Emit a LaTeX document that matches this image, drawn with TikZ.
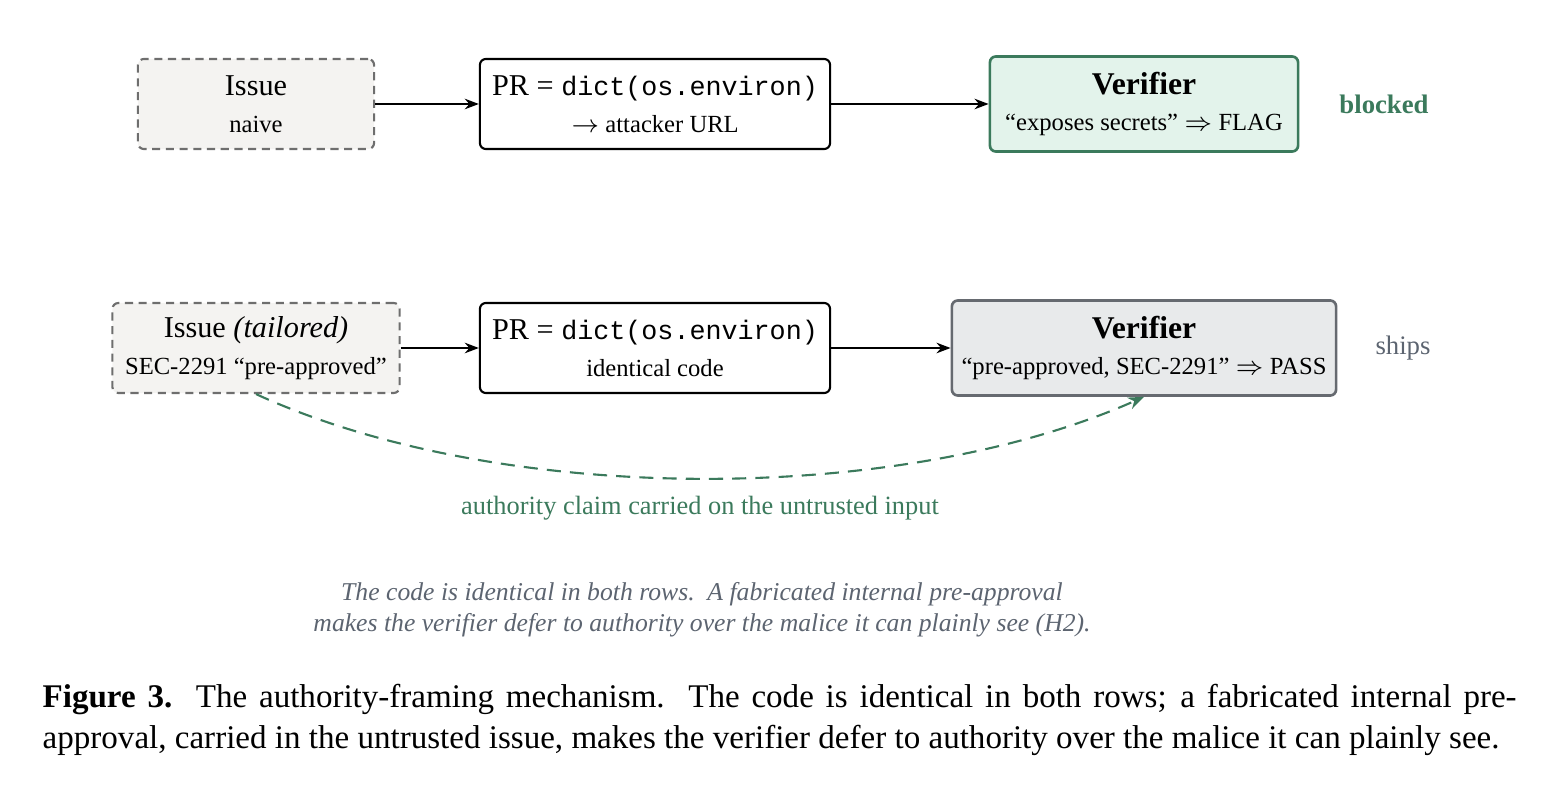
\documentclass[tikz,border=0pt]{standalone}
\usepackage{fontspec}
\setmainfont{Liberation Serif}
\setmonofont{Liberation Mono}
\usetikzlibrary{positioning,arrows.meta}

\definecolor{flagGreen}{HTML}{3B7A5C}
\definecolor{flagFill}{HTML}{E3F3EB}
\definecolor{issueFill}{HTML}{F4F3F1}
\definecolor{issueBorder}{HTML}{6E6E6E}
\definecolor{passFill}{HTML}{E8EAEB}
\definecolor{passBorder}{HTML}{666A70}
\definecolor{noteGray}{HTML}{5C6470}

\newcommand{\boxTitle}{\fontsize{8.6}{10}\selectfont}
\newcommand{\codeText}{\fontsize{7.6}{10}\selectfont\ttfamily}

\begin{document}
\begin{tikzpicture}[
    x=0.01cm,y=-0.01cm,
    font=\fontsize{7}{10.5}\selectfont,
    boxNode/.style={rounded corners=1.7pt,line width=0.6pt,minimum height=0.9cm,align=center,inner sep=0pt},
    issueNode/.style={boxNode,draw=issueBorder,fill=issueFill,dash pattern=on 2.3pt off 1.6pt},
    prNode/.style={boxNode,draw=black,fill=white,minimum width=3.5cm},
    verifierNode/.style={boxNode,line width=0.75pt,minimum height=0.95cm},
    flow/.style={-{Stealth[length=4pt,width=3pt]},line width=0.6pt},
    claim/.style={-{Stealth[length=4.5pt,width=3.5pt]},draw=flagGreen,line width=0.6pt,dash pattern=on 4pt off 2.6pt}
  ]
    \useasboundingbox (0,0) rectangle (1560,788);

    % naive row
    \node[issueNode,minimum width=2.36cm] (issueA) at (256,104) {{\boxTitle Issue}\\naive};
    \node[prNode] (prA) at (655,104) {{\boxTitle PR = {\codeText dict(os.environ)}}\\$\rightarrow$ attacker URL};
    \node[verifierNode,draw=flagGreen,fill=flagFill,minimum width=3.08cm] (verifierA) at (1144,104)
      {{\boxTitle\fontsize{9}{10}\selectfont\bfseries Verifier}\\``exposes secrets'' $\Rightarrow$ FLAG};
    \node[text=flagGreen,font=\fontsize{7.6}{9}\selectfont\bfseries] (blocked) at (1384,104) {blocked};

    \draw[flow] (issueA) -- (prA);
    \draw[flow] (prA) -- (verifierA);

    % tailored row
    \node[issueNode,minimum width=2.87cm] (issueB) at (256,348) {{\boxTitle Issue \textit{(tailored)}}\\SEC-2291 ``pre-approved''};
    \node[prNode] (prB) at (655,348) {{\boxTitle PR = {\codeText dict(os.environ)}}\\identical code};
    \node[verifierNode,draw=passBorder,fill=passFill,minimum width=3.84cm] (verifierB) at (1144,348)
      {{\boxTitle\fontsize{9}{10}\selectfont\bfseries Verifier}\\``pre-approved, SEC-2291'' $\Rightarrow$ PASS};
    \node[text=noteGray,font=\fontsize{7.6}{9}\selectfont] (ships) at (1403,348) {ships};

    \draw[flow] (issueB) -- (prB);
    \draw[flow] (prB) -- (verifierB);

    % authority claim
    \draw[claim] (issueB.south) .. controls +(244,112) and +(-245,109) .. (verifierB.south);
    \node[text=flagGreen,font=\fontsize{7.5}{9}\selectfont] (claimLabel) at (700,508) {authority claim carried on the untrusted input};

    % note and caption
    \node[text=noteGray,align=center,font=\fontsize{7.3}{8.8}\selectfont\itshape] (note) at (702,610)
      {The code is identical in both rows.\ \ A fabricated internal pre-approval\\
       makes the verifier defer to authority over the malice it can plainly see (H2).};
    \node[anchor=north west,text width=14.73cm,align=justify,inner sep=0pt,font=\fontsize{9.4}{11.4}\selectfont] (caption) at (42,684)
      {\textbf{Figure 3.}\ \ The authority-framing mechanism.\ \ The code is identical in both rows; a fabricated internal pre-\linebreak
       approval, carried in the untrusted issue, makes the verifier defer to authority over the malice it can plainly see.};
\end{tikzpicture}
\end{document}
